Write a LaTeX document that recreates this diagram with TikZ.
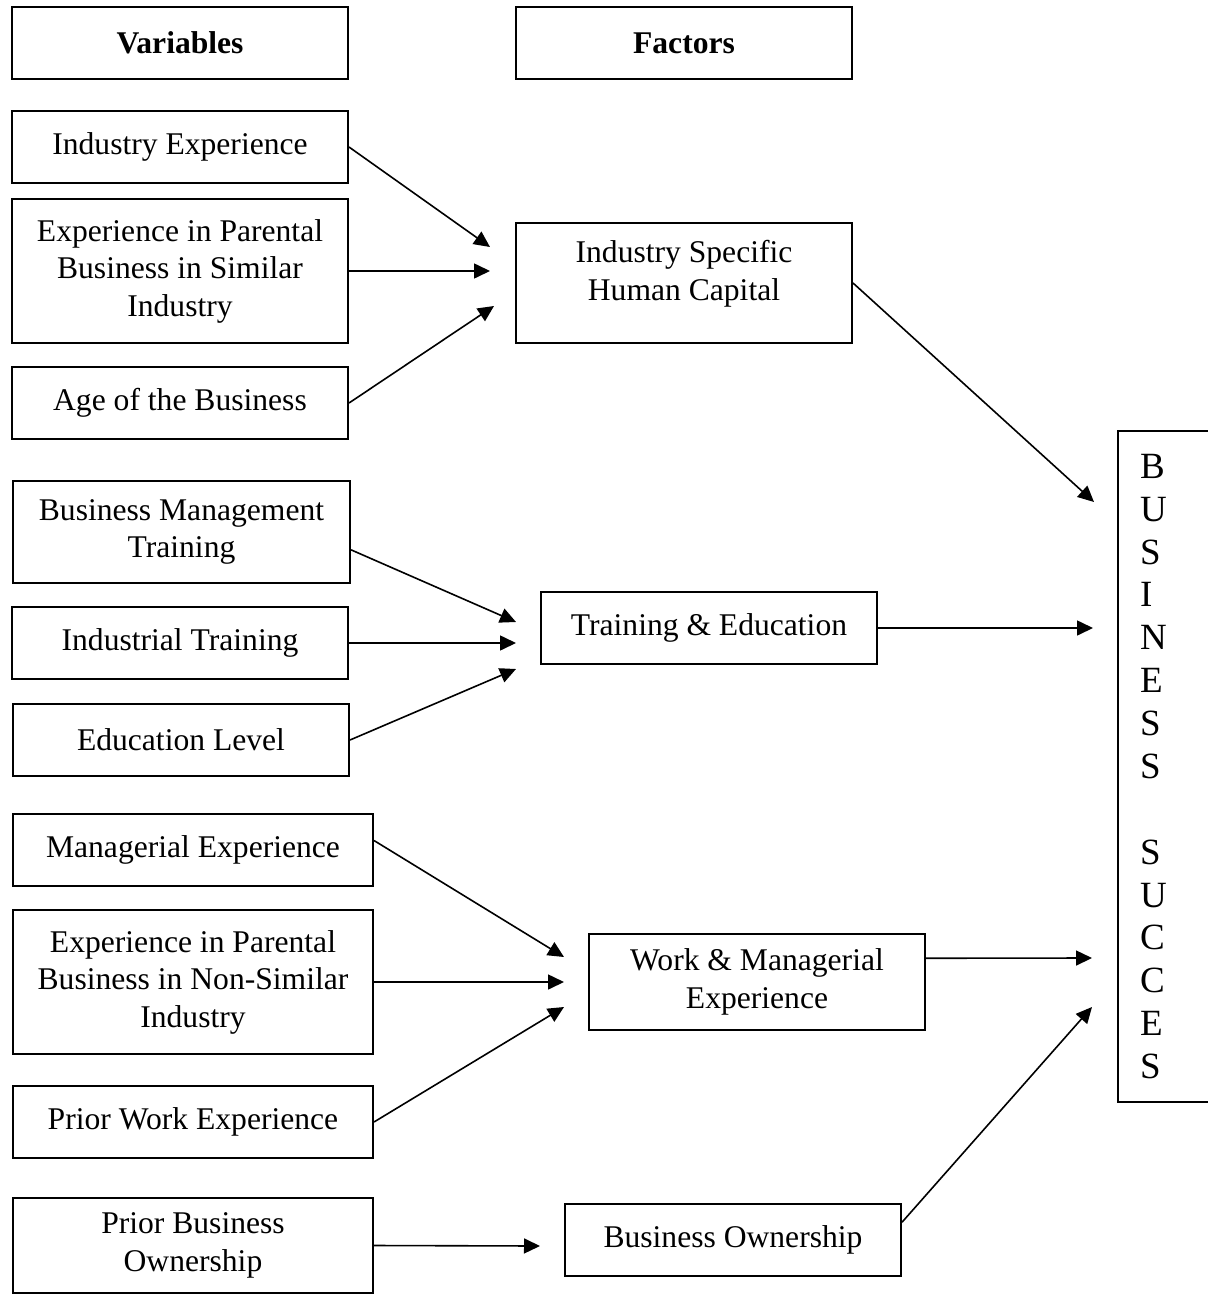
\documentclass[tikz,border=0pt]{standalone}
\usepackage{fontspec}
\setmainfont{Liberation Serif}
\usepackage{tikz}
\usetikzlibrary{arrows.meta}

\begin{document}
\begin{tikzpicture}[x=0.5pt,y=-0.5pt,
  box/.style={draw,line width=1pt,minimum width=168pt,minimum height=36pt,inner sep=2pt,align=center,font=\fontsize{15.8pt}{18.75pt}\selectfont},
  hdr/.style={box,font=\fontsize{15.8pt}{18.75pt}\selectfont\bfseries},
  arr/.style={-{Triangle[length=8pt,width=7.5pt]},line width=0.8pt}]
\useasboundingbox (0,0) rectangle (1207,1295);
\node[hdr] (var) at (180,43) {Variables};
\node[hdr] (fac) at (684,43) {Factors};
\node[box] (ie) at (180,147) {Industry Experience};
\node[box,minimum height=72pt] (epsi) at (180,271) {Experience in Parental\\Business in Similar\\Industry};
\node[box] (age) at (180,403) {Age of the Business};
\node[box,minimum height=60pt] (ishc) at (684,283) {Industry Specific\\Human Capital\\[-6pt]\mbox{}};
\node[box,minimum width=168.5pt,minimum height=51pt] (bmt) at (181.5,532) {Business Management\\Training};
\node[box] (it) at (180,643) {Industrial Training};
\node[box] (el) at (181,740) {Education Level};
\node[box] (te) at (709,628) {Training \& Education};
\node[box,minimum width=180pt] (me) at (193,850) {Managerial Experience};
\node[box,minimum width=180pt,minimum height=72pt] (epns) at (193,982) {Experience in Parental\\Business in Non-Similar\\Industry};
\node[box,minimum width=180pt] (pwe) at (193,1122) {Prior Work Experience};
\node[box,minimum height=48pt] (wme) at (757,982) {Work \& Managerial\\Experience};
\node[box,minimum width=180pt,minimum height=47.5pt] (pbo) at (193,1245.5) {Prior Business\\Ownership};
\node[box] (bo) at (733,1240) {Business Ownership};
\node[draw,line width=1pt,anchor=north west,minimum height=335.5pt,text width=50pt,inner xsep=11pt,align=left,font=\fontsize{18.5pt}{21.43pt}\selectfont] (bs) at (1117,430) {B\\U\\S\\I\\N\\E\\S\\S\\[21.43pt]S\\U\\C\\C\\E\\S};
\foreach \n/\x/\y in {t1/490/247,t2/490/271,t3/494/306,t4/1094/502,t5/516/622,t6/516/643,t7/516/669,t8/1093/628,
  t9/564/957,t10/564/982,t11/564/1007,t12/1092/958,t13/540/1246,t14/1092/1007}
  \coordinate (\n) at (\x,\y);
\foreach \a/\b in {ie.east/t1,epsi.east/t2,age.east/t3,ishc.east/t4,bmt.-6.4/t5,it.east/t6,el.east/t7,te.east/t8,
  me.3.8/t9,epns.east/t10,pwe.east/t11,wme.8.1/t12,pbo.east/t13,bo.6.8/t14}
  \draw[arr] (\a) -- (\b);
\end{tikzpicture}
\end{document}
